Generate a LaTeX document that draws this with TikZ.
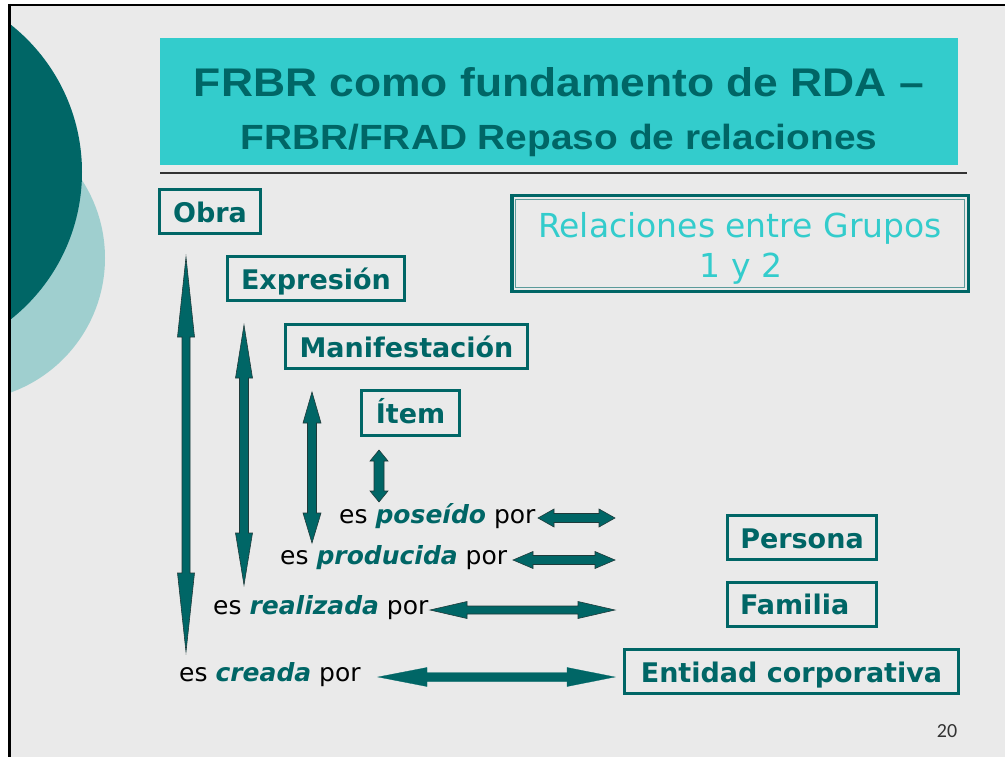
\documentclass[tikz,border=0pt]{standalone}
\usepackage{fontspec}
\newfontfamily\titlefont{Liberation Sans}
\newfontfamily\vfont{DejaVu Sans}
\newfontfamily\pgfont{Carlito}
\definecolor{teal1}{HTML}{006666}
\definecolor{cyan1}{HTML}{33CCCC}
\definecolor{lightc}{HTML}{9FCFCF}
\definecolor{bggray}{HTML}{EAEAEA}
\definecolor{arrowline}{HTML}{1F3A3A}
\definecolor{innerline}{HTML}{5A9A9A}
\definecolor{rulegray}{HTML}{333333}
% style, x, ytop, topbase, botbase, ybot, halfhead, halfshaft
\newcommand\frbrArrowV[8]{\draw[#1] (#2,#3) -- ({#2+#7},#4) -- ({#2+#8},#4) -- ({#2+#8},#5) -- ({#2+#7},#5) -- (#2,#6) -- ({#2-#7},#5) -- ({#2-#8},#5) -- ({#2-#8},#4) -- ({#2-#7},#4) -- cycle;}
% style, y, xleft, leftbase, rightbase, xright, halfhead, halfshaft
\newcommand\frbrArrowH[8]{\draw[#1] (#3,#2) -- (#4,{#2-#7}) -- (#4,{#2-#8}) -- (#5,{#2-#8}) -- (#5,{#2-#7}) -- (#6,#2) -- (#5,{#2+#7}) -- (#5,{#2+#8}) -- (#4,{#2+#8}) -- (#4,{#2+#7}) -- cycle;}
\begin{document}
\begin{tikzpicture}[x=1pt,y=-1pt,
  ebox/.style={draw=teal1, line width=3pt, text=teal1, font=\vfont\bfseries\fontsize{27}{32}\selectfont, inner sep=0pt, minimum height=44pt, text height=24pt, text depth=2.5pt},
  lbl/.style={font=\vfont\fontsize{25}{30}\selectfont, inner sep=0pt, anchor=base west, text=black},
  barrow/.style={fill=teal1, draw=arrowline, line width=0.6pt, line join=miter},
  barrowplain/.style={fill=teal1, draw=teal1, line width=0.3pt, line join=miter}]
\useasboundingbox (0,0) rectangle (1005,757);
\fill[white] (0,0) rectangle (1005,757);
\fill[bggray] (9,5) rectangle (1005,757);
\begin{scope}
\clip (9,5) rectangle (1005,757);
\fill[lightc] (-38,258) circle[radius=143];
\fill[teal1] (-106,172) circle[radius=188];
\end{scope}
\draw[black, line width=2pt] (8,5) -- (1005,5);
\draw[black, line width=3pt] (9,4) -- (9,757);
% title
\node[fill=cyan1, minimum width=798pt, minimum height=127pt, inner sep=0pt, anchor=north west] (titlebox) at (160,38) {};
\node[anchor=base, inner sep=0pt, text=teal1, font=\titlefont\bfseries\fontsize{40}{46}\selectfont, xscale=1.11] (title1) at (559,97) {FRBR como fundamento de RDA –};
\node[anchor=base, inner sep=0pt, text=teal1, font=\titlefont\bfseries\fontsize{35}{40}\selectfont, xscale=1.11] (title2) at (559,150) {FRBR/FRAD Repaso de relaciones};
\draw[rulegray, line width=2pt] (160,173) -- (967,173);
% Group 1 boxes
\node[ebox, minimum width=101pt] (obra) at (210,211.5) {Obra};
\node[ebox, minimum width=177pt] (expr) at (316,278.5) {Expresión};
\node[ebox, minimum width=242pt] (manif) at (406.5,346.5) {Manifestación};
\node[ebox, minimum width=98pt, minimum height=45pt] (item) at (410.5,413) {Ítem};
% group box
\node[draw=teal1, line width=3.5pt, minimum width=456.5pt, minimum height=95.5pt, inner sep=0pt] (rel) at (740,243.5) {};
\draw[innerline, line width=1.2pt] ([shift={(5.5,5.5)}]rel.north west) rectangle ([shift={(-5.5,-5.5)}]rel.south east);
\node[anchor=base, inner sep=0pt, text=cyan1, font=\vfont\fontsize{33}{40}\selectfont] (rel1) at (740,237) {Relaciones entre Grupos};
\node[anchor=base, inner sep=0pt, text=cyan1, font=\vfont\fontsize{33}{40}\selectfont] (rel2) at (741,277) {1 y 2};
% vertical arrows
\frbrArrowV{barrow}{186}{257}{337}{573}{652}{8.5}{4}
\frbrArrowV{barrow}{244}{325}{378}{533}{585}{8.5}{4.5}
\frbrArrowV{barrow}{312}{392}{423}{513}{543}{9}{4.5}
\frbrArrowV{barrow}{379}{450}{461}{491}{502}{9}{5}
% labels
\node[lbl] (l1) at (339,523) {es \textcolor{teal1}{\textbf{\textit{poseído}}} por};
\node[lbl] (l2) at (280,564) {es \textcolor{teal1}{\textbf{\textit{producida}}} por};
\node[lbl] (l3) at (213,614) {es \textcolor{teal1}{\textbf{\textit{realizada}}} por};
\node[lbl] (l4) at (179,681) {es \textcolor{teal1}{\textbf{\textit{creada}}} por};
% horizontal arrows
\frbrArrowH{barrow}{518}{538}{554}{599}{615}{9}{4.5}
\frbrArrowH{barrow}{560}{513}{533}{595}{615}{8.5}{4.5}
\frbrArrowH{barrow}{610}{430}{467}{578}{615}{8.5}{4}
\frbrArrowH{barrowplain}{677}{378}{427}{567}{615}{9.5}{4.5}
% Group 2 boxes
\node[ebox, minimum width=149pt] (persona) at (802,537.5) {Persona};
\node[ebox, text width=124pt, align=left, inner xsep=12.5pt] (familia) at (802,604) {Familia};
\node[ebox, minimum width=334pt] (entidad) at (791.5,671.5) {Entidad corporativa};
% page number
\node[anchor=base, inner sep=0pt, text=rulegray, font=\pgfont\fontsize{20}{24}\selectfont] (pnum) at (947,737) {20};
\end{tikzpicture}
\end{document}
